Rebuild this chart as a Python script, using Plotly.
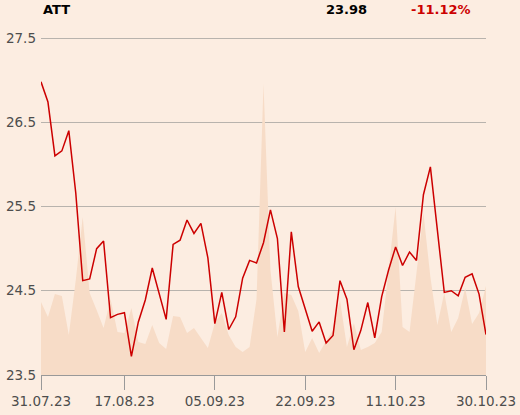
import plotly.graph_objects as go

# 65 trading days from 31.07.23 to 30.10.23 (15.08 closed)
dates = ["31.07.23",
         "01.08.23", "02.08.23", "03.08.23", "04.08.23", "07.08.23", "08.08.23", "09.08.23", "10.08.23",
         "11.08.23", "14.08.23", "16.08.23", "17.08.23", "18.08.23", "21.08.23", "22.08.23", "23.08.23",
         "24.08.23", "25.08.23", "28.08.23", "29.08.23", "30.08.23", "31.08.23",
         "01.09.23", "04.09.23", "05.09.23", "06.09.23", "07.09.23", "08.09.23", "11.09.23", "12.09.23",
         "13.09.23", "14.09.23", "15.09.23", "18.09.23", "19.09.23", "20.09.23", "21.09.23", "22.09.23",
         "25.09.23", "26.09.23", "27.09.23", "28.09.23", "29.09.23",
         "02.10.23", "03.10.23", "04.10.23", "05.10.23", "06.10.23", "09.10.23", "10.10.23", "11.10.23",
         "12.10.23", "13.10.23", "16.10.23", "17.10.23", "18.10.23", "19.10.23", "20.10.23", "23.10.23",
         "24.10.23", "25.10.23", "26.10.23", "27.10.23", "30.10.23"]

price = [26.98, 26.74, 26.10, 26.16, 26.40, 25.66, 24.62, 24.64, 25.00, 25.09,
         24.18, 24.22, 24.24, 23.72, 24.13, 24.39, 24.77, 24.47, 24.16, 25.05,
         25.10, 25.34, 25.18, 25.30, 24.89, 24.11, 24.48, 24.04, 24.19, 24.65,
         24.86, 24.83, 25.07, 25.46, 25.12, 24.01, 25.20, 24.55, 24.28, 24.02,
         24.13, 23.88, 23.97, 24.62, 24.40, 23.80, 24.03, 24.36, 23.94, 24.43,
         24.75, 25.02, 24.80, 24.96, 24.86, 25.64, 25.97, 25.23, 24.48, 24.50,
         24.44, 24.66, 24.70, 24.46, 23.98]

volume = [73, 58, 81, 79, 40, 95, 158, 82, 65, 47,
          76, 43, 42, 67, 33, 31, 50, 32, 26, 59,
          58, 42, 47, 37, 27, 52, 62, 40, 28, 23,
          28, 76, 291, 105, 38, 82, 80, 64, 23, 37,
          22, 34, 45, 75, 28, 52, 25, 28, 32, 43,
          106, 168, 48, 43, 102, 162, 98, 50, 82, 43,
          57, 87, 51, 62, 89]

tick_labels = ["31.07.23", "17.08.23", "05.09.23", "22.09.23", "11.10.23", "30.10.23"]
y_ticks = [23.5, 24.5, 25.5, 26.5, 27.5]

title = "ATT"
last_text = "23.98"
change_text = "-11.12%"

bg = "#fcede1"

fig = go.Figure()
fig.add_trace(go.Scatter(x=dates, y=volume, mode="lines", line=dict(width=0, color="#f7dcc7"),
                         fill="tozeroy", fillcolor="#f7dcc7", yaxis="y", hoverinfo="skip",
                         showlegend=False))
fig.add_trace(go.Scatter(x=dates, y=price, mode="lines", line=dict(width=1.5, color="#cc0000"),
                         yaxis="y2", showlegend=False))

fig.update_layout(
    width=520, height=415,
    margin=dict(l=41, r=34, t=37, b=40),
    paper_bgcolor=bg, plot_bgcolor=bg,
    font=dict(family="DejaVu Sans", color="#4d4d4d", size=13.5),
    xaxis=dict(type="category", range=[0, len(dates) - 1], tickvals=tick_labels, ticktext=tick_labels,
               showgrid=False, showline=True, linecolor="#999999", linewidth=1,
               ticks="outside", ticklen=14, tickcolor="#999999", tickwidth=1, automargin=False,
               tickfont=dict(size=13.5, color="#4d4d4d"), zeroline=False),
    yaxis=dict(range=[0, 338], visible=False, showgrid=False, zeroline=False, fixedrange=True,
               automargin=False),
    yaxis2=dict(overlaying="y", side="left", range=[23.5, 27.512], tickvals=y_ticks,
                ticktext=[f"{v:.1f}" for v in y_ticks], automargin=False,
                showgrid=True, gridcolor="#b8b3ad", gridwidth=1, zeroline=False, showline=False,
                ticks="", tickfont=dict(size=13.5, color="#4d4d4d"), ticklabelstandoff=4),
    annotations=[
        dict(text=f"<b>{title}</b>", xref="paper", yref="paper", x=0, y=1.0803, xanchor="left",
             yanchor="middle", showarrow=False, font=dict(size=13, color="#000000")),
        dict(text=f"<b>{last_text}</b>", xref="paper", yref="paper", x=0.737, y=1.0803, xanchor="right",
             yanchor="middle", showarrow=False, font=dict(size=13, color="#000000")),
        dict(text=f"<b>{change_text}</b>", xref="paper", yref="paper", x=0.971, y=1.0803, xanchor="right",
             yanchor="middle", showarrow=False, font=dict(size=13, color="#cc0000")),
    ],
)

fig.write_html("out.html", config={"displayModeBar": False},
               post_script="document.body.style.margin='0';")
